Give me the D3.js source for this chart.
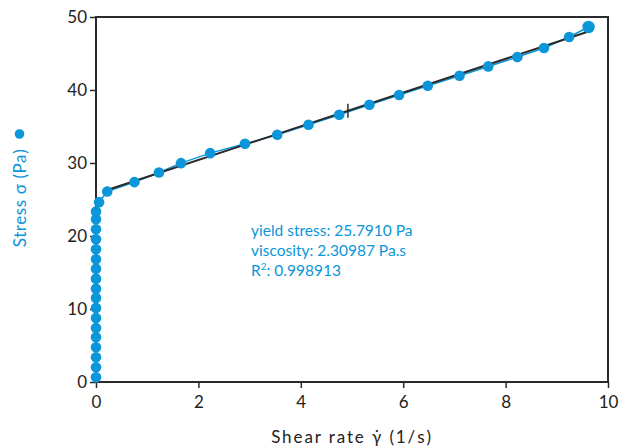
<!DOCTYPE html>
<html>
<head>
<meta charset="utf-8">
<script src="https://cdn.jsdelivr.net/npm/d3@7"></script>
<style>
  html, body { margin: 0; padding: 0; background: #fff; }
  svg { display: block; }
  text { font-family: Lato, "Open Sans", sans-serif; }
</style>
</head>
<body>
<svg id="chart" width="619" height="447"></svg>
<script>
// Flow curve: shear stress vs shear rate, with a Bingham fit
const shearRate = [
  0, 0, 0, 0, 0, 0, 0, 0, 0, 0, 0, 0, 0, 0, 0, 0, 0, 0, 0.06,
  0.22, 0.75, 1.23, 1.66, 2.23, 2.91, 3.54, 4.15, 4.75, 5.34, 5.92, 6.48,
  7.10, 7.66, 8.23, 8.75, 9.24, 9.62
];
const stress = [
  0.64, 2.02, 3.39, 4.76, 6.13, 7.40, 8.77, 10.15, 11.52, 12.79, 14.16, 15.53,
  16.82, 18.19, 19.56, 20.93, 22.31, 23.35, 24.64,
  26.09, 27.38, 28.69, 29.98, 31.35, 32.63, 33.86, 35.23, 36.61, 37.98, 39.31, 40.58,
  41.95, 43.23, 44.52, 45.76, 47.26, 48.63
];

// Bingham model parameters and the shear-rate range they were fitted over
const yieldStress = 25.7910;
const viscosity = 2.30987;
const rSquared = 0.998913;
const fitRange = [0.22, 9.62];
const fitMarker = 4.92;

const xTicks = [0, 2, 4, 6, 8, 10];
const yTicks = [0, 10, 20, 30, 40, 50];

const blue = "#0a96d8";
const ink = "#2a2a2a";

const svg = d3.select("#chart");
const margin = { left: 96, right: 11, top: 17, bottom: 65 };
const W = 619, H = 447;

const x = d3.scaleLinear().domain([0, 10]).range([margin.left, W - margin.right]);
const y = d3.scaleLinear().domain([0, 50]).range([H - margin.bottom, margin.top]);

// axes
const xAxis = d3.axisBottom(x).tickValues(xTicks).tickSize(6).tickSizeOuter(0).tickPadding(6);
const yAxis = d3.axisLeft(y).tickValues(yTicks).tickSize(6).tickSizeOuter(0).tickPadding(3);

const gx = svg.append("g").attr("transform", `translate(0,${y(0)})`).call(xAxis);
const gy = svg.append("g").attr("transform", `translate(${x(0)},0)`).call(yAxis);
[gx, gy].forEach(g => {
  g.select(".domain").remove();
  g.selectAll(".tick line").attr("stroke", ink).attr("stroke-width", 1.5);
  g.selectAll(".tick text").attr("fill", "#222").style("font-size", "17px");
});
gx.selectAll(".tick text").attr("dy", "0.85em");

// plot frame
svg.append("rect")
  .attr("x", x(0)).attr("y", y(50))
  .attr("width", x(10) - x(0)).attr("height", y(0) - y(50))
  .attr("fill", "none").attr("stroke", ink).attr("stroke-width", 2);

const pts = shearRate.map((r, i) => [r, stress[i]]);

// measured curve
svg.append("path")
  .datum(pts)
  .attr("fill", "none")
  .attr("stroke", blue)
  .attr("stroke-width", 1.5)
  .attr("d", d3.line().x(d => x(d[0])).y(d => y(d[1])));

// fitted line
const fit = r => yieldStress + viscosity * r;
svg.append("line")
  .attr("x1", x(fitRange[0])).attr("y1", y(fit(fitRange[0])))
  .attr("x2", x(fitRange[1])).attr("y2", y(fit(fitRange[1])))
  .attr("stroke", ink).attr("stroke-width", 2);

// measured points
svg.append("g").selectAll("circle")
  .data(pts)
  .join("circle")
  .attr("cx", d => x(d[0]))
  .attr("cy", d => y(d[1]))
  .attr("r", (d, i) => i === pts.length - 1 ? 6.2 : 5.3)
  .attr("fill", blue);

// marker on the fit line
svg.append("line")
  .attr("x1", x(fitMarker)).attr("x2", x(fitMarker))
  .attr("y1", y(fit(fitMarker)) - 7).attr("y2", y(fit(fitMarker)) + 7)
  .attr("stroke", ink).attr("stroke-width", 1.5);

// fit results
const tg = svg.append("g").attr("fill", blue).style("font-size", "15.5px");
tg.append("text").attr("x", 251).attr("y", 236)
  .text(`yield stress: ${yieldStress.toFixed(4)} Pa`);
tg.append("text").attr("x", 251).attr("y", 256)
  .text(`viscosity: ${viscosity} Pa.s`);
const r2 = tg.append("text").attr("x", 251).attr("y", 276);
r2.append("tspan").text("R");
r2.append("tspan").attr("dy", -6).style("font-size", "10px").text("2");
r2.append("tspan").attr("dy", 6).text(`: ${rSquared}`);

// axis titles
svg.append("text")
  .attr("x", (x(0) + x(10)) / 2).attr("y", 443)
  .attr("text-anchor", "middle")
  .attr("fill", "#222")
  .style("font-size", "17px")
  .style("letter-spacing", "1.9px")
  .text("Shear rate \u03B3\u0307 (1/s)");

const yt = svg.append("g").attr("transform", "translate(26,198) rotate(-90)");
yt.append("text")
  .attr("x", 0).attr("y", 0)
  .attr("text-anchor", "middle")
  .attr("fill", blue)
  .style("font-size", "17px")
  .style("letter-spacing", "0.6px")
  .text("Stress \u03C3 (Pa)");
yt.append("circle").attr("cx", 64).attr("cy", -6.5).attr("r", 4.8).attr("fill", blue);
</script>
</body>
</html>
